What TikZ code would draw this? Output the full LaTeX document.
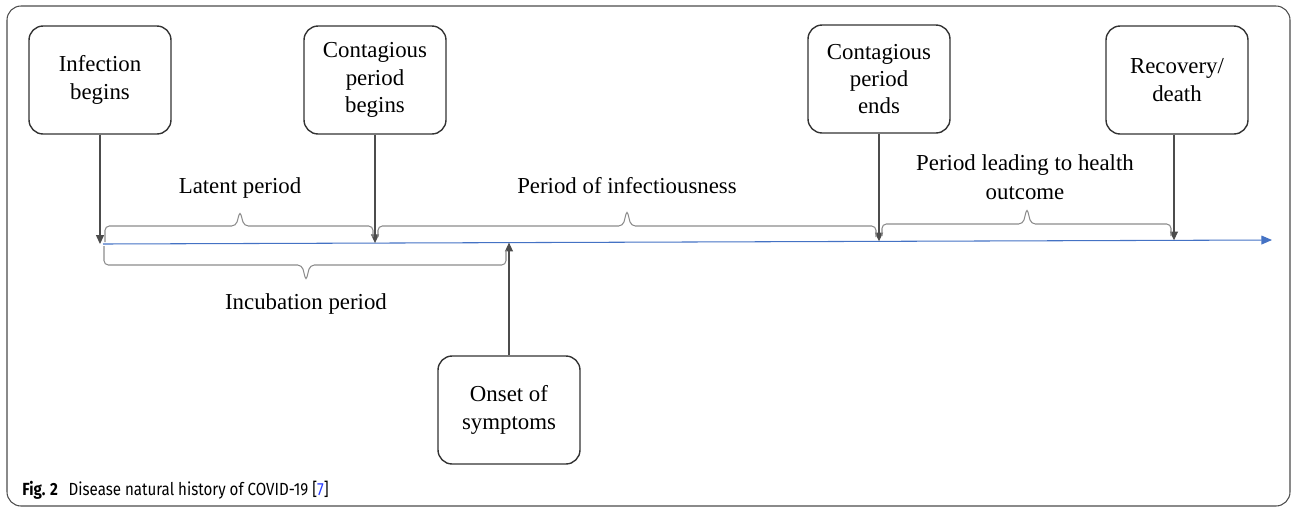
\documentclass[tikz,border=0pt]{standalone}
\usepackage{fontspec}
\setmainfont{Liberation Serif}
\newfontfamily\capfont[FakeStretch=0.86]{Fira Sans}
\usetikzlibrary{arrows.meta,positioning}
\definecolor{axisblue}{RGB}{68,114,196}
\definecolor{linkblue}{RGB}{40,60,255}

\begin{document}
\begin{tikzpicture}[x=0.02cm,y=-0.02cm,
    event/.style={draw=black!80, line width=0.8pt, rounded corners=8pt,
        minimum width=2.84cm, minimum height=2.16cm, align=center,
        font=\fontsize{13}{15.5}\selectfont},
    arr/.style={draw=black!70, line width=0.6pt, -{Triangle[length=5pt,width=4.5pt]}},
    brc/.style={draw=black!45, line width=0.6pt, rounded corners=2.5pt},
    lbl/.style={align=center, font=\fontsize{13}{16.5}\selectfont}]
    \useasboundingbox (0,0) rectangle (1292,508);
    \draw[black!70, line width=0.6pt, rounded corners=8pt] (7,6) rectangle (1290,506);

    % events
    \node[event] (infect) at (100,80) {Infection\\begins};
    \node[event] (contbeg) at (375,80) {Contagious\\period\\begins};
    \node[event] (contend) at (879,79) {Contagious\\period\\ends};
    \node[event] (recov) at (1177,80) {Recovery/\\death};
    \node[event] (onset) at (509,410) {Onset of\\symptoms};

    % time line
    \coordinate (tstart) at (103,244);
    \coordinate (tend) at (1272,240);
    \coordinate (t1) at (100,244);
    \coordinate (t2) at (375,243.1);
    \coordinate (t3) at (509,242.6);
    \coordinate (t4) at (879,241.3);
    \coordinate (t5) at (1174,240.3);
    \draw[axisblue, line width=0.6pt, -{Triangle[length=6pt,width=5pt]}] (tstart) -- (tend);

    \draw[arr] (infect) -- (t1);
    \draw[arr] (contbeg) -- (t2);
    \draw[arr] (contend) -- (t4);
    \draw[arr] (recov.south -| t5) -- (t5);
    \draw[arr] (onset) -- (t3);

    % braces
    \draw[brc] (105,242) -- (105,226) -- (236,226) -- (240,211) -- (244,226) -- (373,226) -- (373,237);
    \draw[brc] (378,237) -- (378,226) -- (623,226) -- (627,210) -- (631,226) -- (876,226) -- (876,237);
    \draw[brc] (882,236) -- (882,224) -- (1023,224) -- (1027,208) -- (1031,224) -- (1171,224) -- (1171,236);
    \draw[brc] (104,246) -- (104,265) -- (302,265) -- (306,281) -- (310,265) -- (506,265) -- (506,250);

    \node[lbl] (latent) at (240,188) {Latent period};
    \node[lbl] (infectious) at (627,186) {Period of infectiousness};
    \node[lbl] (leading) at (1025,177) {Period leading to health\\outcome};
    \node[lbl] (incub) at (306,304) {Incubation period};

    \node[anchor=base west, inner sep=0, font=\capfont\fontsize{10}{12}\selectfont] (caption) at (22,495)
        {\textbf{Fig. 2}\hspace{0.6em}Disease natural history of COVID-19 [{\color{linkblue}7}]};
\end{tikzpicture}
\end{document}
